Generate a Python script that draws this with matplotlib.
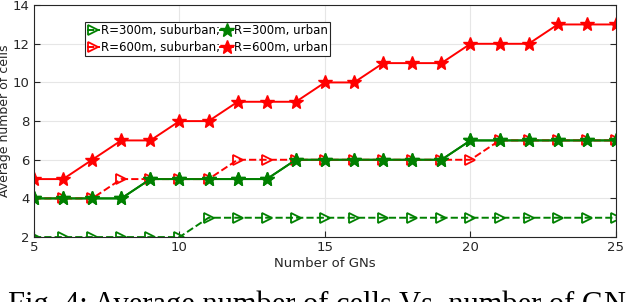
import numpy as np
import matplotlib.pyplot as plt

# Data
num_gns = list(range(5, 26))
r300_suburban = [2, 2, 2, 2, 2, 2, 3, 3, 3, 3, 3, 3, 3, 3, 3, 3, 3, 3, 3, 3, 3]
r300_urban = [4, 4, 4, 4, 5, 5, 5, 5, 5, 6, 6, 6, 6, 6, 6, 7, 7, 7, 7, 7, 7]
r600_suburban = [4, 4, 4, 5, 5, 5, 5, 6, 6, 6, 6, 6, 6, 6, 6, 6, 7, 7, 7, 7, 7]
r600_urban = [5, 5, 6, 7, 7, 8, 8, 9, 9, 9, 10, 10, 11, 11, 11, 12, 12, 12, 13, 13, 13]

labels = ['R=300m, suburban;', 'R=300m, urban',
          'R=600m, suburban;', 'R=600m, urban']
x_ticks = [5, 10, 15, 20, 25]
y_ticks = [2, 4, 6, 8, 10, 12, 14]

green = '#008000'
red = '#ff0000'

fig = plt.figure(figsize=(6.26, 3.02), dpi=100)
ax = fig.add_axes([0.0543, 0.215, 0.9297, 0.768])

ax.plot(num_gns, r300_suburban, '--', color=green, marker='>', mfc='none',
        ms=6.5, mew=1.3, lw=1.4, label=labels[0])
ax.plot(num_gns, r300_urban, '-', color=green, marker='*', ms=10,
        lw=1.4, label=labels[1])
ax.plot(num_gns, r600_suburban, '--', color=red, marker='>', mfc='none',
        ms=6.5, mew=1.3, lw=1.4, label=labels[2])
ax.plot(num_gns, r600_urban, '-', color=red, marker='*', ms=10,
        lw=1.4, label=labels[3])

# redraw green urban on top like the original
ax.plot(num_gns, r300_urban, '-', color=green, marker='*', ms=10, lw=1.4)

ax.set_xlim(5, 25)
ax.set_ylim(2, 14)
ax.set_xticks(x_ticks)
ax.set_yticks(y_ticks)
ax.grid(True, color='#e6e6e6', lw=0.8)
ax.set_axisbelow(True)
ax.tick_params(direction='in', labelsize=9.5, colors='#262626', length=4,
               top=False, right=True, pad=3)
for s in ax.spines.values():
    s.set_color('#262626')
    s.set_linewidth(0.8)
ax.set_xlabel('Number of GNs', fontsize=9.5, color='#262626', labelpad=2)
ax.set_ylabel('Average number of cells', fontsize=9, color='#262626', labelpad=1)

handles, labs = ax.get_legend_handles_labels()
order = [0, 2, 1, 3]
leg = ax.legend([handles[i] for i in order], [labs[i] for i in order],
                ncol=2, loc='upper left', bbox_to_anchor=(0.087, 0.928),
                fontsize=8.5, handlelength=1.1, handletextpad=0.05,
                columnspacing=0.05, borderpad=0.2, labelspacing=0.3,
                fancybox=False, edgecolor='#262626', framealpha=1,
                borderaxespad=0)
leg.get_frame().set_linewidth(0.8)

fig.text(0.013, -0.038, 'Fig. 4: Average number of cells Vs. number of GNs.',
         fontsize=22, family='Liberation Serif', va='baseline', ha='left')

fig.savefig('out.png', dpi=100)
